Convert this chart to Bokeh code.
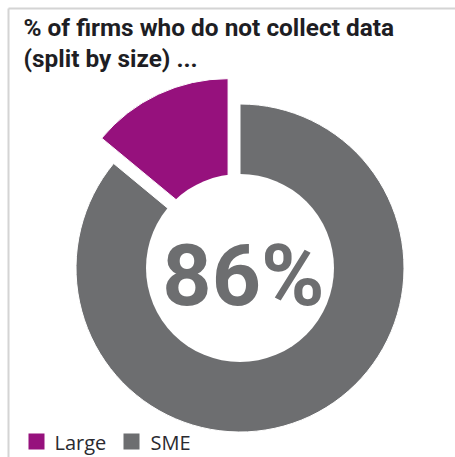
import math
from bokeh.plotting import figure
from bokeh.models import Range1d, ColumnDataSource
from bokeh.core.properties import value
from bokeh.embed import file_html
from bokeh.resources import INLINE

# ---- data ----
categories = ["Large", "SME"]
shares = [14, 86]
colors = ["#96117d", "#6d6e70"]
explode = [28, 0]
center_label = "86%"
title_lines = ["% of firms who do not collect data", "(split by size) ..."]

# ---- layout (pixel-like data units) ----
W, H = 455, 457
cx, cy = 239.5, 189.5
R, HOLE = 164, 94

p = figure(width=W, height=H, output_backend="svg", toolbar_location=None,
           min_border=0, x_axis_type=None, y_axis_type=None,
           x_range=Range1d(0, W), y_range=Range1d(0, H))
p.grid.visible = False
p.outline_line_color = None
p.background_fill_color = "white"
p.border_fill_color = "white"

# frame lines (top and left)
p.segment(x0=[8, 8], y0=[449, 449], x1=[W, 8], y1=[449, 0],
          line_color="#d4d4d4", line_width=2)

# pie wedges
total = float(sum(shares))
start = math.pi / 2
xs, ys, starts, ends = [], [], [], []
for s, e in zip(shares, explode):
    ang = s / total * 2 * math.pi
    mid = start + ang / 2
    xs.append(cx + e * math.cos(mid))
    ys.append(cy + e * math.sin(mid))
    starts.append(start)
    ends.append(start + ang)
    start += ang
src = ColumnDataSource(dict(x=xs, y=ys, s=starts, e=ends, c=colors, name=categories))
p.wedge(x="x", y="y", radius=R, start_angle="s", end_angle="e",
        fill_color="c", line_color="white", line_width=1, source=src)

# center hole
p.scatter(x=[cx], y=[cy], size=2 * HOLE, marker="circle",
          fill_color="white", line_color=None)

# center label
p.text(x=[cx + 3.5], y=[cy - 7.5], text=[center_label],
       text_font=value("Roboto"), text_font_style="bold", text_font_size="86px",
       text_color="#6d6e70", text_align="center", text_baseline="alphabetic")

# title
p.text(x=[23, 23], y=[430, 399.5], text=title_lines,
       text_font=value("Roboto"), text_font_style="bold", text_font_size="24.4px",
       text_color="#1e1e24", text_align="left", text_baseline="alphabetic")

# legend
p.scatter(x=[36, 131], y=[16, 16], marker="square", size=16,
          fill_color=colors, line_color=None)
p.text(x=[54, 150], y=[15, 15], text=categories,
       text_font=value("Open Sans"), text_font_size="20px",
       text_color="#2a2a30", text_align="left", text_baseline="alphabetic")

open("out.html", "w").write(file_html(p, INLINE))
